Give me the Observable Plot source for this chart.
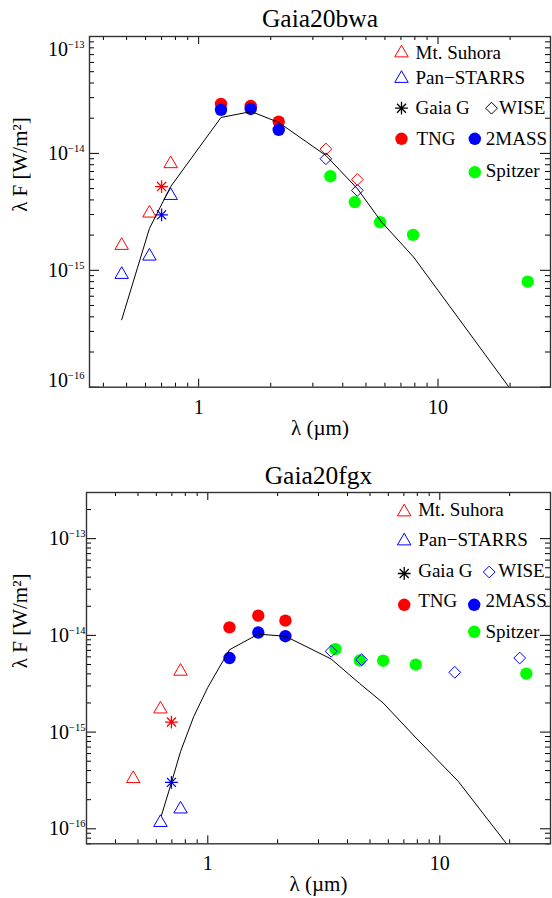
<!DOCTYPE html>
<html>
<head>
<meta charset="utf-8">
<script src="https://cdn.jsdelivr.net/npm/d3@7"></script>
<script src="https://cdn.jsdelivr.net/npm/@observablehq/plot@0.6"></script>
<style>
  body { margin: 0; background: #fff; }
  #fig { position: relative; width: 552px; height: 898px; background: #fff; }
  #fig svg { position: absolute; left: 0; overflow: visible; }
</style>
</head>
<body>
<div id="fig"></div>
<script>
// ---- Gaia20bwa : [wavelength (µm), λF (W/m²)] ----
const bwaSuhora    = [[0.477, 1.63e-15], [0.623, 3.08e-15], [0.764, 8.15e-15]];
const bwaPanStarrs = [[0.477, 9.2e-16], [0.623, 1.32e-15], [0.764, 4.36e-15]];
const bwaGaiaHigh  = [[0.70, 5.2e-15]];
const bwaGaiaLow   = [[0.70, 2.98e-15]];
const bwaTNG       = [[1.24, 2.65e-14], [1.65, 2.55e-14], [2.16, 1.87e-14]];
const bwa2MASS     = [[1.24, 2.36e-14], [1.65, 2.40e-14], [2.16, 1.59e-14]];
const bwaWiseHigh  = [[3.4, 1.09e-14], [4.6, 5.98e-15]];
const bwaWiseLow   = [[3.4, 9.0e-15], [4.6, 4.82e-15]];
const bwaSpitzer   = [[3.55, 6.38e-15], [4.49, 3.83e-15], [5.73, 2.58e-15], [7.87, 2.01e-15], [23.7, 8.0e-16]];
const bwaModel     = [[0.477, 3.77e-16], [0.623, 2.28e-15], [0.764, 5.2e-15], [1.24, 2.03e-14], [1.66, 2.28e-14],
                      [2.16, 1.84e-14], [3.4, 9.6e-15], [4.6, 5.0e-15], [5.8, 2.6e-15], [7.9, 1.3e-15], [19.8, 1.0e-16]];

// ---- Gaia20fgx ----
const fgxSuhora    = [[0.477, 3.3e-16], [0.625, 1.73e-15], [0.763, 4.25e-15]];
const fgxPanStarrs = [[0.625, 1.16e-16], [0.763, 1.60e-16]];
const fgxGaiaHigh  = [[0.697, 1.27e-15]];
const fgxGaiaLow   = [[0.697, 3.02e-16]];
const fgxTNG       = [[1.24, 1.21e-14], [1.65, 1.60e-14], [2.16, 1.42e-14]];
const fgx2MASS     = [[1.24, 5.83e-15], [1.65, 1.07e-14], [2.16, 9.8e-15]];
const fgxWise      = [[3.4, 6.84e-15], [4.6, 5.6e-15], [11.6, 4.15e-15], [22.1, 5.83e-15]];
const fgxSpitzer   = [[3.55, 7.2e-15], [4.52, 5.5e-15], [5.7, 5.47e-15], [7.88, 4.98e-15], [23.6, 4.02e-15]];
const fgxModel     = [[0.631, 1.37e-16], [0.697, 3.0e-16], [0.763, 6.3e-16], [0.87, 1.45e-15], [1.0, 2.9e-15],
                      [1.24, 7.1e-15], [1.65, 1.03e-14], [2.16, 9.8e-15], [3.4, 5.7e-15], [4.5, 3.2e-15],
                      [5.7, 2.0e-15], [7.9, 8.7e-16], [12, 3.1e-16], [19.4, 7.0e-17]];

// ---- axis ticks and labels ----
const xTickValues  = [1, 10];
const bwaYTicks    = [1e-16, 1e-15, 1e-14, 1e-13];
const fgxYTicks    = [1e-16, 1e-15, 1e-14, 1e-13];
const legendLabels = ["Mt. Suhora", "Pan\u2212STARRS", "Gaia G", "WISE", "TNG", "2MASS", "Spitzer"];
const xTitle = "\u03bb (\u00b5m)";
const yTitle = "\u03bb F [W/m\u00b2]";

const RED = "#ff0000", BLUE = "#0000ff", GREEN = "#00ff00", BLACK = "#000000";
const FONT = "'Liberation Serif', 'Times New Roman', serif";

// eight-armed asterisk marker
const asterisk = {
  draw(context, size) {
    const r = Math.sqrt(size / Math.PI);
    const d = r * Math.SQRT1_2;
    context.moveTo(-r, 0); context.lineTo(r, 0);
    context.moveTo(0, -r); context.lineTo(0, r);
    context.moveTo(-d, -d); context.lineTo(d, d);
    context.moveTo(-d, d); context.lineTo(d, -d);
  }
};

const SYM = {
  triangle: {symbol: "triangle", r: 5, fill: "none", strokeWidth: 1},
  diamond:  {symbol: "diamond2", r: 5.3, fill: "none", strokeWidth: 1},
  asterisk: {symbol: asterisk, r: 6.4, fill: "none", strokeWidth: 1.3},
  disc:     {symbol: "circle", r: 6.2, stroke: "none"}
};

function styled(kind, color) {
  const s = {...SYM[kind]};
  if (kind === "disc") s.fill = color; else s.stroke = color;
  return s;
}

// minor ticks (2..9 × 10^k) that fall inside a domain
function minorTicks([lo, hi]) {
  const out = [];
  for (let e = Math.floor(Math.log10(lo)); e <= Math.ceil(Math.log10(hi)); e++) {
    for (let k = 2; k <= 9; k++) {
      const v = k * Math.pow(10, e);
      if (v >= lo * 0.9999 && v <= hi * 1.0001) out.push(v);
    }
  }
  return out;
}

function panel(p) {
  const W = 552;
  const innerW = W - p.ml - p.mr, innerH = p.height - p.mt - p.mb;
  const xy = {x: d => d[0], y: d => d[1]};
  const tickStyle = {stroke: BLACK, strokeWidth: 1};
  const xMinor = minorTicks(p.xDomain).filter(v => !xTickValues.includes(v));
  const yMinor = minorTicks(p.yDomain);

  const marks = [
    // inward ticks on all four sides
    Plot.ruleX(xMinor, {...tickStyle, insetTop: innerH - 4}),
    Plot.ruleX(xMinor, {...tickStyle, insetBottom: innerH - 4}),
    Plot.ruleX(xTickValues, {...tickStyle, insetTop: innerH - 8}),
    Plot.ruleX(xTickValues, {...tickStyle, insetBottom: innerH - 8}),
    Plot.ruleY(yMinor, {...tickStyle, insetRight: innerW - 5}),
    Plot.ruleY(yMinor, {...tickStyle, insetLeft: innerW - 5}),
    Plot.ruleY(p.yTicks, {...tickStyle, insetRight: innerW - 10}),
    Plot.ruleY(p.yTicks, {...tickStyle, insetLeft: innerW - 10}),
    Plot.frame({stroke: "#333", strokeWidth: 1.4}),
    // x tick labels under the frame
    Plot.text(xTickValues, {x: d => d, y: null, text: d => String(d), frameAnchor: "bottom",
      dy: 20, lineAnchor: "middle", fontSize: 20, fill: BLACK})
  ];

  for (const [data, kind, color] of p.series) {
    marks.push(Plot.dot(data, {...xy, ...styled(kind, color)}));
  }
  marks.push(Plot.line(p.model, {...xy, stroke: BLACK, strokeWidth: 1, clip: true}));

  // legend
  for (const item of p.legend) {
    marks.push(Plot.dot([0], {x: null, y: null, frameAnchor: "top-left",
      dx: item.sx - p.ml, dy: item.sy - p.mt, ...styled(item.kind, item.color)}));
    marks.push(Plot.text([legendLabels[item.i]], {x: null, y: null, text: d => d, frameAnchor: "top-left",
      dx: item.tx - p.ml, dy: item.ty - p.mt, textAnchor: "start", lineAnchor: "bottom",
      fontSize: 19, fill: BLACK}));
  }

  // title and axis titles
  marks.push(Plot.text([p.title], {x: null, y: null, text: d => d, frameAnchor: "top",
    dy: p.titleBaseline - p.mt, lineAnchor: "bottom", fontSize: 25.5, fill: BLACK}));
  marks.push(Plot.text([xTitle], {x: null, y: null, text: d => d, frameAnchor: "bottom",
    dy: p.xTitleDy, lineAnchor: "bottom", fontSize: 21, fill: BLACK}));
  marks.push(Plot.text([yTitle], {x: null, y: null, text: d => d, frameAnchor: "left",
    dx: p.yTitleX - p.ml, rotate: -90, lineAnchor: "middle", fontSize: 21, fill: BLACK}));

  const svg = Plot.plot({
    width: W, height: p.height,
    marginTop: p.mt, marginBottom: p.mb, marginLeft: p.ml, marginRight: p.mr,
    style: {fontFamily: FONT, fontSize: "20px", background: "transparent", color: BLACK},
    x: {type: "log", domain: p.xDomain, axis: null},
    y: {type: "log", domain: p.yDomain, ticks: p.yTicks, tickSize: 0, tickPadding: p.yPad,
        tickFormat: d => String(Math.round(Math.log10(d))).replace("-", "\u2212"), label: null},
    marks
  });

  // write y tick labels as 10 with a raised exponent
  const lo = Math.round(Math.log10(p.yTicks[0]));
  const hi = Math.round(Math.log10(p.yTicks[p.yTicks.length - 1]));
  svg.querySelectorAll('g[aria-label="y-axis tick label"] text').forEach(t => {
    const expo = t.textContent;
    const e = +expo.replace("\u2212", "-");
    t.textContent = "";
    const base = document.createElementNS("http://www.w3.org/2000/svg", "tspan");
    base.textContent = "10";
    const sup = document.createElementNS("http://www.w3.org/2000/svg", "tspan");
    sup.textContent = expo;
    sup.setAttribute("dy", "-8");
    sup.setAttribute("font-size", "10.5");
    t.appendChild(base); t.appendChild(sup);
    let shift = 0;
    if (e === hi && p.edgeShift) shift = p.edgeShift.top;
    if (e === lo && p.edgeShift) shift = p.edgeShift.bottom;
    if (shift) t.setAttribute("transform", (t.getAttribute("transform") || "") + ` translate(0,${shift})`);
  });

  svg.style.top = p.top + "px";
  return svg;
}

const fig = document.getElementById("fig");

fig.appendChild(panel({
  top: 0, height: 440, mt: 36, mb: 53.3, ml: 89, mr: 2,
  xDomain: [0.35, 29.5], yDomain: [1e-16, 1e-13], yTicks: bwaYTicks, yPad: 5,
  edgeShift: {top: 13, bottom: -7},
  title: "Gaia20bwa", titleBaseline: 26.7, xTitleDy: 47.5, yTitleX: 19.5,
  series: [
    [bwaSpitzer, "disc", GREEN],
    [bwaTNG, "disc", RED],
    [bwa2MASS, "disc", BLUE],
    [bwaSuhora, "triangle", RED],
    [bwaPanStarrs, "triangle", BLUE],
    [bwaGaiaHigh, "asterisk", RED],
    [bwaGaiaLow, "asterisk", BLUE],
    [bwaWiseHigh, "diamond", RED],
    [bwaWiseLow, "diamond", BLUE]
  ],
  model: bwaModel,
  legend: [
    {i: 0, kind: "triangle", color: RED,   sx: 401,   sy: 52.5,  tx: 415,   ty: 58.3},
    {i: 1, kind: "triangle", color: BLUE,  sx: 401,   sy: 78,    tx: 415,   ty: 83.3},
    {i: 2, kind: "asterisk", color: BLACK, sx: 401,   sy: 107.7, tx: 415,   ty: 113.3},
    {i: 3, kind: "diamond",  color: BLACK, sx: 491,   sy: 107.7, tx: 498.5, ty: 113.3},
    {i: 4, kind: "disc",     color: RED,   sx: 401,   sy: 138.3, tx: 416,   ty: 144},
    {i: 5, kind: "disc",     color: BLUE,  sx: 474.3, sy: 138.3, tx: 485.3, ty: 144},
    {i: 6, kind: "disc",     color: GREEN, sx: 474.3, sy: 171.7, tx: 485.3, ty: 176.7}
  ]
}));

fig.appendChild(panel({
  top: 450, height: 448, mt: 42, mb: 54.7, ml: 86, mr: 2,
  xDomain: [0.3, 30], yDomain: [7e-17, 3e-13], yTicks: fgxYTicks, yPad: 1,
  edgeShift: null,
  title: "Gaia20fgx", titleBaseline: 33.3, xTitleDy: 47.5, yTitleX: 19.5,
  series: [
    [fgxSpitzer, "disc", GREEN],
    [fgxTNG, "disc", RED],
    [fgx2MASS, "disc", BLUE],
    [fgxSuhora, "triangle", RED],
    [fgxPanStarrs, "triangle", BLUE],
    [fgxGaiaHigh, "asterisk", RED],
    [fgxGaiaLow, "asterisk", BLUE],
    [fgxWise, "diamond", BLUE]
  ],
  model: fgxModel,
  legend: [
    {i: 0, kind: "triangle", color: RED,   sx: 403.7, sy: 61.5, tx: 417.7, ty: 65},
    {i: 1, kind: "triangle", color: BLUE,  sx: 403.7, sy: 90.5, tx: 417.7, ty: 95},
    {i: 2, kind: "asterisk", color: BLACK, sx: 403.7, sy: 123,  tx: 417.7, ty: 126.7},
    {i: 3, kind: "diamond",  color: BLUE,  sx: 488.7, sy: 121.5, tx: 497.7, ty: 126.7},
    {i: 4, kind: "disc",     color: RED,   sx: 403.7, sy: 154.3, tx: 417.7, ty: 156.7},
    {i: 5, kind: "disc",     color: BLUE,  sx: 473.7, sy: 154.3, tx: 485,   ty: 156.7},
    {i: 6, kind: "disc",     color: GREEN, sx: 473.7, sy: 181.3, tx: 485,   ty: 187.3}
  ]
}));
</script>
</body>
</html>
